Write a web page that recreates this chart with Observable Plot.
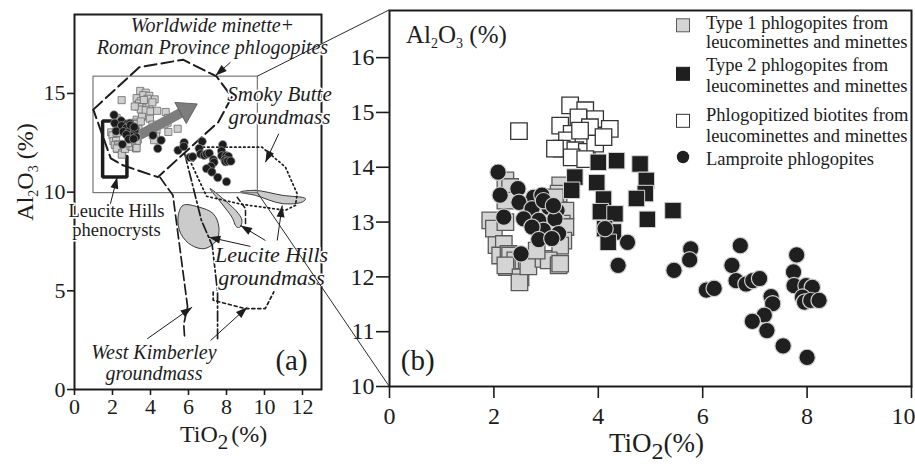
<!DOCTYPE html>
<html>
<head>
<meta charset="utf-8">
<script src="https://cdn.jsdelivr.net/npm/d3@7"></script>
<script src="https://cdn.jsdelivr.net/npm/@observablehq/plot@0.6"></script>
<style>
  html,body{margin:0;padding:0;background:#fff;}
  #chart{position:relative;width:915px;height:464px;overflow:hidden;background:#fff;}
  #chart svg{position:absolute;top:0;overflow:visible;}
</style>
</head>
<body>
<div id="chart"></div>
<script>
// ---------------- DATA (TiO2 %, Al2O3 %) ----------------
const type1Phlogopites = [
  [1.93,13.03],[2.00,12.88],[2.22,13.00],[2.22,13.76],[2.31,13.64],[2.22,13.39],[3.27,13.67],[3.24,13.52],
  [3.17,13.45],[3.37,13.21],[3.30,12.97],[3.37,12.91],[3.33,12.66],[3.27,12.57],[2.05,12.58],[2.19,12.60],
  [2.12,12.39],[2.28,12.42],[2.31,12.39],[2.41,12.30],[2.63,12.30],[2.25,12.18],[2.22,12.21],[2.51,11.99],
  [2.49,11.90],[2.66,12.19],[2.95,12.33],[3.05,12.30],[3.24,12.21],[3.27,12.24],[2.82,12.48]
];
const phlogopitizedBiotites = [
  [2.48,14.66],[3.46,15.13],[3.75,15.04],[3.27,14.76],[3.62,14.91],[3.94,14.88],[4.22,14.70],[3.49,14.61],
  [3.68,14.52],[3.84,14.73],[3.40,14.49],[3.30,14.34],[3.56,14.31],[3.78,14.28],[3.94,14.43],[3.49,14.18],
  [3.75,14.15],[3.17,14.34],[4.10,14.55],[3.65,14.67]
];
const type2Phlogopites = [
  [4.00,14.09],[4.35,14.12],[4.80,14.06],[4.92,13.76],[4.90,13.52],[4.73,13.43],[3.55,13.82],[3.97,13.72],
  [3.49,13.58],[4.10,13.42],[4.04,13.19],[4.32,13.15],[4.94,13.05],[5.43,13.21],[4.12,12.88],[4.29,12.82],[4.19,12.63]
];
const lamproitePhlogopites = [
  [2.08,13.91],[2.46,13.61],[2.12,13.49],[2.76,13.45],[2.92,13.49],[3.05,13.27],[3.21,13.21],[2.48,13.36],
  [2.73,13.24],[2.19,13.09],[2.57,13.06],[2.86,13.03],[3.17,13.06],[2.95,12.85],[2.73,12.91],[3.24,12.79],
  [2.86,12.68],[2.52,12.42],[3.11,12.70],[2.95,13.39],[3.14,13.30],
  [4.13,12.88],[4.56,12.63],[4.38,12.21],[5.45,12.12],[5.77,12.51],[5.75,12.31],
  [6.07,11.76],[6.22,11.79],[6.72,12.57],[6.56,12.21],[6.64,11.93],[6.83,11.87],[6.96,11.93],[7.09,11.97],
  [7.31,11.64],[7.34,11.51],[7.18,11.30],[6.95,11.19],[7.23,11.02],[7.54,10.74],[8.00,10.53],
  [7.80,12.40],[7.74,12.09],[7.75,11.84],[7.98,11.84],[8.10,11.81],[7.91,11.63],[7.95,11.54],[8.07,11.57],[8.23,11.57]
];

const xTicksA = [0,2,4,6,8,10,12];
const yTicksA = [0,5,10,15];
const xTicksB = [0,2,4,6,8,10];
const yTicksB = [10,11,12,13,14,15,16];

// Panel (a) literature fields, outlines in (TiO2, Al2O3)
const worldwideField = [[0.99,14.18],[3.41,16.33],[5.71,16.71],[7.48,15.86],[8.28,14.82],[7.57,13.55],[4.39,10.76],[2.55,11.36],[1.91,11.71],[0.99,14.18]];
const smokyButteField = [[6.77,12.28],[9.87,12.28],[11.10,11.27],[11.72,9.92],[11.63,9.33],[11.10,9.08],[8.81,9.38],[6.95,9.79],[6.15,11.44],[6.77,12.28]];
const leuciteHillsPhenocrysts = [[1.92,13.60],[1.48,13.60],[1.48,10.77],[2.76,10.77],[2.76,11.80]];
const leuciteGroundmassBlob = [[5.71,9.33],[6.51,9.25],[7.30,8.91],[7.60,8.23],[7.48,7.56],[6.86,7.14],[6.15,7.31],[5.59,7.90],[5.45,8.74]];
const leuciteGroundmassLeaf = [[7.13,10.18],[7.92,9.58],[8.63,8.91],[8.81,8.57],[8.72,8.23],[8.54,8.23],[8.28,8.74],[7.75,9.42]];
const leuciteGroundmassFlat = [[8.72,10.00],[9.51,10.09],[10.93,9.84],[12.16,9.67],[11.99,9.50],[10.93,9.42],[9.51,9.84]];
const leuciteGroundmassOutline = [[8.56,9.74],[9.00,9.16],[9.00,8.40]];
const westKimberleyLeft = [[4.50,10.75],[5.18,9.84],[5.95,4.20],[5.75,3.30],[5.80,2.58]];
const westKimberleyRight = [[5.80,11.95],[6.68,8.57],[7.25,7.30],[7.53,4.94],[7.53,2.58]];
const westKimberleyLower = [[7.30,4.94],[7.30,4.52],[8.98,4.10],[10.04,4.10],[10.49,4.94]];
const zoomBoxTiO2 = [1.0, 9.65];
const zoomBoxAl2O3 = [9.95, 15.85];
const trendArrow = [{from:[3.45,12.90], to:[6.46,14.47]}];
const pointers = [
  {from:[8.21,16.58], to:[7.42,15.91]},
  {from:[10.75,12.96], to:[10.05,11.52]},
  {from:[1.89,9.41], to:[2.25,10.76]},
  {from:[9.26,7.25], to:[7.07,7.72]},
  {from:[10.05,7.55], to:[8.74,8.31]},
  {from:[10.67,7.55], to:[10.93,9.32]},
  {from:[3.83,2.57], to:[6.19,4.17]},
  {from:[7.16,2.48], to:[9.09,4.17]}
];
const italicLabelsA = [
  {text:"Worldwide minette+\nRoman Province phlogopites", x:7.26, y:17.91, size:20},
  {text:"Smoky Butte\ngroundmass", x:10.79, y:14.41, size:21},
  {text:"Leucite Hills\ngroundmass", x:10.37, y:6.26, size:22},
  {text:"West Kimberley\ngroundmass", x:4.18, y:1.37, size:20}
];
const plainLabelsA = [
  {text:"Leucite Hills\nphenocrysts", x:2.21, y:8.56, size:18.5}
];
const panelTags = [{text:"(a)", x:11.42, y:1.47}, {text:"(b)", x:0.54, y:10.47}];
const legendLabels = [
  ["Type 1 phlogopites from", "leucominettes and minettes"],
  ["Type 2 phlogopites from", "leucominettes and minettes"],
  ["Phlogopitized biotites from", "leucominettes and minettes"],
  ["Lamproite phlogopites"]
];

// ---------------- LAYOUT / STYLE ----------------
const FONT = "'Liberation Serif','Times New Roman',Times,serif";
const INK = "#1c1c1c";
const LEFT_B = 335;
const P = d => d[0], Q = d => d[1];
const intFmt = d => String(d);

const optsA = {
  width: 345, height: 464, marginLeft: 74, marginRight: 24, marginTop: 14, marginBottom: 75,
  x: {domain: [0, 13], ticks: xTicksA, tickFormat: intFmt, tickSize: 6, tickPadding: 3, label: null},
  y: {domain: [0, 19], ticks: yTicksA, tickFormat: intFmt, tickSize: 7, tickPadding: 2, label: null},
  style: {fontFamily: FONT, fontSize: "22px", background: "transparent", overflow: "visible", color: INK}
};
const optsB = {
  width: 580, height: 464, marginLeft: 54, marginRight: 4, marginTop: 10, marginBottom: 78,
  x: {domain: [0, 10], ticks: xTicksB, tickFormat: intFmt, tickSize: 12, tickPadding: 8, label: null},
  y: {domain: [10, 16.86], ticks: yTicksB, tickFormat: intFmt, tickSize: 13, tickPadding: 2, label: null},
  style: {fontFamily: FONT, fontSize: "24px", background: "transparent", overflow: "visible", color: INK}
};
const scalesOf = o => ({
  x: d3.scaleLinear(o.x.domain, [o.marginLeft, o.width - o.marginRight]),
  y: d3.scaleLinear(o.y.domain, [o.height - o.marginBottom, o.marginTop])
});
const sA = scalesOf(optsA), sB = scalesOf(optsB);

const pointerHead = {draw(ctx, size) { const r = Math.sqrt(size / Math.PI);
  ctx.moveTo(0, 0); ctx.lineTo(-0.8 * r, 2.3 * r); ctx.lineTo(0.8 * r, 2.3 * r); ctx.closePath(); }};
const trendHead = {draw(ctx, size) { const r = Math.sqrt(size / Math.PI);
  ctx.moveTo(0, 0); ctx.lineTo(-1.2 * r, 1.9 * r); ctx.lineTo(1.2 * r, 1.9 * r); ctx.closePath(); }};
const angleA = d => {
  const dx = sA.x(d.to[0]) - sA.x(d.from[0]), dy = sA.y(d.to[1]) - sA.y(d.from[1]);
  return Math.atan2(dx, -dy) * 180 / Math.PI;
};
const trendBody = trendArrow.map(d => {
  const x1 = sA.x(d.from[0]), y1 = sA.y(d.from[1]), x2 = sA.x(d.to[0]), y2 = sA.y(d.to[1]);
  const L = Math.hypot(x2 - x1, y2 - y1), k = (L - 16) / L;
  return {x1: d.from[0], y1: d.from[1], x2: sA.x.invert(x1 + (x2 - x1) * k), y2: sA.y.invert(y1 + (y2 - y1) * k)};
});
const allSquares = [...type1Phlogopites, ...phlogopitizedBiotites, ...type2Phlogopites];
const zoomBox = [{x1: zoomBoxTiO2[0], x2: zoomBoxTiO2[1], y1: zoomBoxAl2O3[0], y2: zoomBoxAl2O3[1]}];

// ---------------- PANEL (a) ----------------
const plotA = Plot.plot({...optsA, marks: [
  Plot.line(leuciteGroundmassBlob, {x: P, y: Q, curve: "catmull-rom-closed", fill: "#cbcbcb", stroke: "#3a3a3a", strokeWidth: 1}),
  Plot.line(leuciteGroundmassLeaf, {x: P, y: Q, curve: "catmull-rom-closed", fill: "#cbcbcb", stroke: "#3a3a3a", strokeWidth: 1}),
  Plot.line(leuciteGroundmassFlat, {x: P, y: Q, curve: "catmull-rom-closed", fill: "#cbcbcb", stroke: "#3a3a3a", strokeWidth: 1}),
  Plot.line(leuciteGroundmassOutline, {x: P, y: Q, stroke: INK, strokeWidth: 1.5, strokeDasharray: "5,3"}),
  Plot.rect(zoomBox, {x1: "x1", x2: "x2", y1: "y1", y2: "y2", fill: "none", stroke: "#777", strokeWidth: 1.2}),
  Plot.line(worldwideField, {x: P, y: Q, stroke: INK, strokeWidth: 2, strokeDasharray: "12,5"}),
  Plot.line(smokyButteField, {x: P, y: Q, stroke: INK, strokeWidth: 1.7, strokeDasharray: "1.5,3", strokeLinecap: "round"}),
  Plot.line(westKimberleyLeft, {x: P, y: Q, stroke: INK, strokeWidth: 1.7, strokeDasharray: "10,4"}),
  Plot.line(westKimberleyRight, {x: P, y: Q, stroke: INK, strokeWidth: 1.7, strokeDasharray: "10,3,2,3"}),
  Plot.line(westKimberleyLower, {x: P, y: Q, stroke: INK, strokeWidth: 1.7, strokeDasharray: "3,3"}),
  Plot.line(leuciteHillsPhenocrysts, {x: P, y: Q, stroke: INK, strokeWidth: 3.5, strokeLinejoin: "miter"}),
  Plot.dot(allSquares, {x: P, y: Q, symbol: "square", r: 4, fill: "#cfcfcf", stroke: "#6a6a6a", strokeWidth: 0.8}),
  Plot.link(trendBody, {x1: "x1", y1: "y1", x2: "x2", y2: "y2", stroke: "#7d7d7d", strokeWidth: 10}),
  Plot.dot(trendArrow, {x: d => d.to[0], y: d => d.to[1], symbol: trendHead, r: 10, fill: "#7d7d7d", stroke: "#5a5a5a", strokeWidth: 0.8, rotate: angleA}),
  Plot.dot(lamproitePhlogopites, {x: P, y: Q, r: 4.2, fill: INK, stroke: "#9a9a9a", strokeWidth: 0.7}),
  Plot.frame({stroke: INK, strokeWidth: 2}),
  Plot.text(italicLabelsA, {x: "x", y: "y", text: "text", fontSize: "size", fontStyle: "italic", lineHeight: 1.08, fill: INK, stroke: "white", strokeWidth: 3, paintOrder: "stroke"}),
  Plot.text(plainLabelsA, {x: "x", y: "y", text: "text", fontSize: "size", lineHeight: 1.0, fill: INK, stroke: "white", strokeWidth: 3, paintOrder: "stroke"}),
  Plot.link(pointers, {x1: d => d.from[0], y1: d => d.from[1], x2: d => d.to[0], y2: d => d.to[1], stroke: INK, strokeWidth: 1}),
  Plot.dot(pointers, {x: d => d.to[0], y: d => d.to[1], symbol: pointerHead, r: 5, fill: INK, stroke: "none", rotate: angleA}),
  Plot.text(panelTags.slice(0, 1), {x: "x", y: "y", text: "text", fontSize: 29, fill: INK})
]});
plotA.style.left = "0px";

// ---------------- PANEL (b) ----------------
const plotB = Plot.plot({...optsB, marks: [
  Plot.dot(type1Phlogopites, {x: P, y: Q, symbol: "square", r: 9.3, fill: "#d4d4d4", stroke: "#5a5a5a", strokeWidth: 1.3}),
  Plot.dot(phlogopitizedBiotites, {x: P, y: Q, symbol: "square", r: 9.3, fill: "#ffffff", stroke: "#333", strokeWidth: 1.3}),
  Plot.dot(type2Phlogopites, {x: P, y: Q, symbol: "square", r: 9.3, fill: "#1f1f1f", stroke: "#d8d8d8", strokeWidth: 1}),
  Plot.dot(lamproitePhlogopites, {x: P, y: Q, r: 8.2, fill: "#1f1f1f", stroke: "#d0d0d0", strokeWidth: 1.2}),
  Plot.frame({stroke: INK, strokeWidth: 2}),
  Plot.text(panelTags.slice(1), {x: "x", y: "y", text: "text", fontSize: 29, fill: INK})
]});
plotB.style.left = LEFT_B + "px";

const chart = document.getElementById("chart");
chart.appendChild(plotA);
chart.appendChild(plotB);

// thicker tick marks
for (const svg of [plotA, plotB]) {
  d3.select(svg).selectAll('g[aria-label="x-axis tick"] path, g[aria-label="y-axis tick"] path').attr("stroke-width", 1.6);
}
// keep the last x tick label of (b) inside the picture (right-aligned like the reference)
{
  const lbls = d3.select(plotB).selectAll('g[aria-label="x-axis tick label"] text').nodes();
  if (lbls.length) d3.select(lbls[lbls.length - 1]).attr("text-anchor", "end").attr("dx", 4);
}

// rich text helper (sub-scripts)
function richText(sel, {x, y, size, parts, rotate = false, anchor = "start"}) {
  const t = sel.append("text").attr("x", x).attr("y", y)
    .attr("font-family", FONT).attr("font-size", size).attr("fill", INK).attr("text-anchor", anchor);
  if (rotate) t.attr("transform", `rotate(-90 ${x} ${y})`);
  let shift = 0;
  for (const p of parts) {
    const s = t.append("tspan").text(p.text);
    const target = p.sub ? p.shift : 0;
    if (target !== shift) { s.attr("dy", target - shift); shift = target; }
    if (p.sub) s.attr("font-size", p.size);
    if (p.dx) s.attr("dx", p.dx);
  }
  return t;
}
const gA = d3.select(plotA), gB = d3.select(plotB);
richText(gA, {x: 180, y: 442, size: 24, parts: [{text: "TiO"}, {text: "2", sub: true, size: 21, shift: 7}, {text: "(%)", dx: 3}]});
richText(gA, {x: 33, y: 172, size: 24, rotate: true, anchor: "middle", parts: [
  {text: "Al"}, {text: "2", sub: true, size: 14, shift: 5}, {text: "O"}, {text: "3", sub: true, size: 14, shift: 5}, {text: " (%)"}]});
richText(gB, {x: 609 - LEFT_B, y: 452, size: 27, parts: [{text: "TiO"}, {text: "2", sub: true, size: 24, shift: 7}, {text: "(%)"}]});
richText(gB, {x: 406 - LEFT_B, y: 43, size: 25, parts: [
  {text: "Al"}, {text: "2", sub: true, size: 14, shift: 5}, {text: "O"}, {text: "3", sub: true, size: 14, shift: 5}, {text: " (%)"}]});

// legend (inside panel b, top right)
const frameRightB = optsB.width - optsB.marginRight;
const legendStyle = [
  {kind: "square", fill: "#d4d4d4", stroke: "#5a5a5a", cy: 25.3, base: [29, 48]},
  {kind: "square", fill: "#1f1f1f", stroke: "#1f1f1f", cy: 73.8, base: [70.5, 91.5]},
  {kind: "square", fill: "#ffffff", stroke: "#333", cy: 120.8, base: [120.5, 141.5]},
  {kind: "circle", fill: "#1f1f1f", stroke: "#1f1f1f", cy: 157, base: [165]}
];
const lg = gB.append("g").attr("text-anchor", "start");
legendLabels.forEach((lines, i) => {
  const st = legendStyle[i], mx = frameRightB - 228;
  if (st.kind === "square") lg.append("rect").attr("x", mx - 6.5).attr("y", st.cy - 6.5).attr("width", 13).attr("height", 13)
    .attr("fill", st.fill).attr("stroke", st.stroke).attr("stroke-width", 1);
  else lg.append("circle").attr("cx", mx).attr("cy", st.cy).attr("r", 6.2).attr("fill", st.fill);
  lines.forEach((ln, j) => lg.append("text").attr("x", frameRightB - 205).attr("y", st.base[j])
    .attr("text-anchor", "start").attr("font-family", FONT).attr("font-size", 18.5).attr("fill", INK).text(ln));
});

// connector lines from the zoom box in (a) to panel (b)
const ov = d3.select(chart).append("svg").attr("width", 915).attr("height", 464).style("left", "0px").style("pointer-events", "none");
const connectors = [
  [[zoomBoxTiO2[1], zoomBoxAl2O3[1]], [optsB.x.domain[0], optsB.y.domain[1]]],
  [[zoomBoxTiO2[1], zoomBoxAl2O3[0]], [optsB.x.domain[0], optsB.y.domain[0]]]
];
for (const [a, b] of connectors) {
  ov.append("line").attr("x1", sA.x(a[0])).attr("y1", sA.y(a[1]))
    .attr("x2", LEFT_B + sB.x(b[0])).attr("y2", sB.y(b[1]))
    .attr("stroke", "#2a2a2a").attr("stroke-width", 1);
}
</script>
</body>
</html>
